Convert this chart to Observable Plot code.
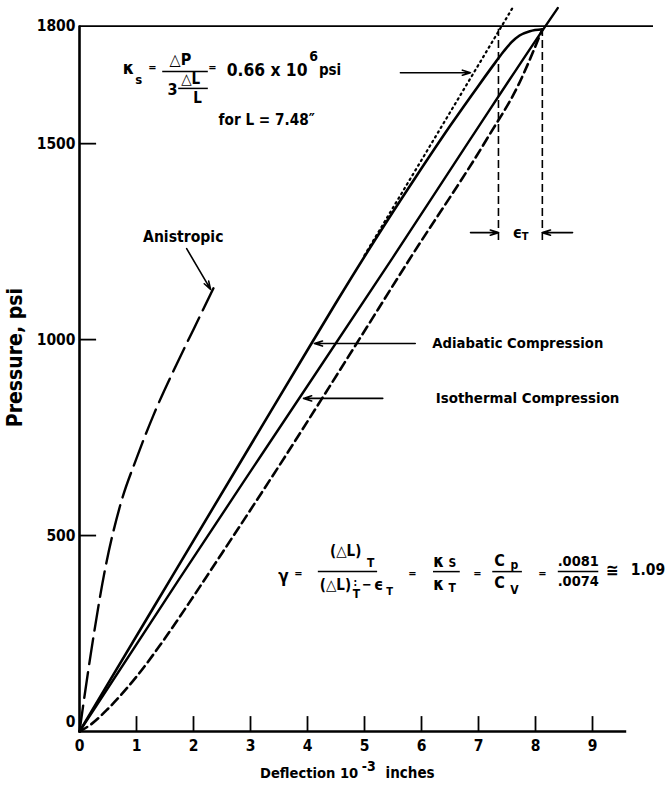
<!DOCTYPE html>
<html>
<head>
<meta charset="utf-8">
<script src="https://cdn.jsdelivr.net/npm/d3@7"></script>
<script src="https://cdn.jsdelivr.net/npm/@observablehq/plot@0.6"></script>
<style>
  body { margin: 0; background: #fff; }
</style>
</head>
<body>
<div id="chart"></div>
<script>
// ---- data (deflection in 10^-3 in, pressure in psi) ----
const adiabatic = [[0,0],[0.5,122],[1.56,380],[3.18,774],[4.04,983],[4.5,1094],[5.2,1258],[5.9,1415],[6.5,1545],[7.0,1648],[7.3,1708],[7.45,1737],[7.58,1759],[7.72,1776],[7.9,1787],[8.12,1792]];
const isothermal = [[0,0],[1.74,387],[3.18,703],[5.49,1208],[6.86,1512],[8.15,1795],[8.39,1846]];
const measured = [[0,0],[0.2,18],[0.5,58],[1.0,140],[1.5,238],[2.0,345],[2.5,455],[3.6,700],[4.84,985],[5.79,1205],[7.16,1515],[7.7,1650],[8.12,1792]];
const anisotropic = [[0,0],[0.2,200],[0.45,415],[0.72,580],[1.0,697],[1.3,808],[1.7,936],[2.0,1026],[2.35,1131]];
const tangent = [[5.0,1215],[7.6,1847]];
const epsilonMarks = [7.35, 8.12];
const epsilonRange = [1253, 1792];

const xTicks = [1,2,3,4,5,6,7,8,9];
const xTickLabels = [0,1,2,3,4,5,6,7,8,9];
const yTicks = [500,1000,1500];
const yTickLabels = [500,1000,1500,1800];
const topLine = 1800;

// ---- annotations (positions in data units) ----
const arrows = [
  {x1:1.88, y1:1232, x2:2.30, y2:1128},   // Anistropic
  {x1:5.89, y1:990,  x2:4.12, y2:990},    // Adiabatic
  {x1:5.32, y1:850,  x2:3.93, y2:850},    // Isothermal
  {x1:5.63, y1:1681, x2:6.86, y2:1681},   // tangent (kappa_s)
  {x1:6.86, y1:1273, x2:7.35, y2:1273},   // epsilon left
  {x1:8.65, y1:1273, x2:8.12, y2:1273}    // epsilon right
];
const fractionBars = [
  {x1:1.46, x2:2.26, y:1684},
  {x1:1.74, x2:2.26, y:1641},
  {x1:4.19, x2:5.23, y:408},
  {x1:6.21, x2:6.68, y:408},
  {x1:7.25, x2:7.77, y:408},
  {x1:8.40, x2:9.11, y:408}
];
const notesMiddle = [
  {x:0.86, y:1692, t:"κ", s:18},
  {x:1.04, y:1662, t:"s", s:13},
  {x:1.28, y:1694, t:"=", s:11},
  {x:1.77, y:1715, t:"△P", s:16},
  {x:1.63, y:1638, t:"3", s:16},
  {x:1.95, y:1664, t:"△L", s:15},
  {x:2.07, y:1615, t:"L", s:15},
  {x:2.33, y:1694, t:"=", s:11},
  {x:3.58, y:396, t:"γ", s:17},
  {x:3.84, y:403, t:"=", s:11},
  {x:4.67, y:459, t:"(△L)", s:15},
  {x:5.11, y:429, t:"T", s:12},
  {x:4.49, y:373, t:"(△L)", s:15},
  {x:4.84, y:380, t:":", s:10},
  {x:4.86, y:350, t:"T", s:12},
  {x:5.04, y:373, t:"−", s:13},
  {x:5.25, y:373, t:"ϵ", s:16},
  {x:5.44, y:357, t:"T", s:11},
  {x:5.84, y:403, t:"=", s:11},
  {x:6.30, y:434, t:"κ", s:17},
  {x:6.54, y:429, t:"S", s:12},
  {x:6.30, y:375, t:"κ", s:17},
  {x:6.54, y:365, t:"T", s:12},
  {x:6.98, y:403, t:"=", s:11},
  {x:7.37, y:436, t:"C", s:16},
  {x:7.63, y:424, t:"p", s:12},
  {x:7.37, y:378, t:"C", s:16},
  {x:7.63, y:360, t:"V", s:12},
  {x:8.12, y:403, t:"=", s:11},
  {x:8.75, y:434, t:".0081", s:14.5},
  {x:8.75, y:383, t:".0074", s:14.5},
  {x:9.35, y:411, t:"≅", s:17},
  {x:1.82, y:1263, t:"Anistropic", s:15.6},
  {x:7.68, y:1273, t:"ϵ", s:16},
  {x:7.82, y:1262, t:"T", s:11}
];
const notesStart = [
  {x:4.03, y:1722, t:"6", s:14},
  {x:4.2, y:1687, t:"psi", s:15},
  {x:2.44, y:1559, t:"for L = 7.48″", s:15.2},
  {x:9.67, y:413, t:"1.09", s:15.5},
  {x:6.19, y:990, t:"Adiabatic Compression", s:14.7},
  {x:6.25, y:850, t:"Isothermal Compression", s:14.9},
  {x:4.95, y:-90, t:"-3", s:14},
  {x:5.37, y:-107, t:"inches", s:15}
];
const notesEnd = [
  {x:4.0, y:1687, t:"0.66 x 10", s:17.3},
  {x:4.89, y:-107, t:"Deflection 10", s:14.6}
];

const FONT = "'DejaVu Sans Condensed', 'Liberation Sans Narrow', sans-serif";

const chart = Plot.plot({
  width: 668,
  height: 785,
  marginLeft: 79,
  marginRight: 15,
  marginTop: 6,
  marginBottom: 54,
  x: {domain: [0, 10.07], axis: null},
  y: {domain: [0, 1850], axis: null},
  style: {fontFamily: FONT, background: "#fff", color: "#000", overflow: "visible"},
  marks: [
    // frame
    Plot.ruleY([topLine], {x1: 0, x2: 10.07, stroke: "#000", strokeWidth: 1.6}),
    Plot.ruleX([0], {y1: 0, y2: topLine, stroke: "#000", strokeWidth: 2.6}),
    Plot.ruleY([0], {x1: 0, x2: 9.6, stroke: "#000", strokeWidth: 2.6}),
    Plot.ruleX(xTicks, {y1: 0, y2: 38, stroke: "#000", strokeWidth: 1.8}),
    Plot.ruleY(yTicks, {x1: 0, x2: 0.3, stroke: "#000", strokeWidth: 1.8}),
    Plot.text(xTickLabels, {x: d => d, y: -36, text: d => String(d), fontSize: 15.5, fontWeight: "bold", textAnchor: "middle"}),
    Plot.text(yTickLabels, {x: -0.07, y: d => d, text: d => String(d), fontSize: 15.5, fontWeight: "bold", textAnchor: "end"}),
    Plot.text([0], {x: -0.07, y: d => d, dy: -9, text: d => String(d), fontSize: 15.5, fontWeight: "bold", textAnchor: "end"}),
    Plot.text(["Pressure, psi"], {x: -1.12, y: 954, text: d => d, rotate: -90, fontSize: 21, fontWeight: "bold", textAnchor: "middle"}),
    // curves
    Plot.line(anisotropic, {x: d => d[0], y: d => d[1], curve: "monotone-x", stroke: "#000", strokeWidth: 2.4, strokeDasharray: "26,8"}),
    Plot.line(measured, {x: d => d[0], y: d => d[1], curve: "monotone-x", stroke: "#000", strokeWidth: 2.6, strokeDasharray: "9,5"}),
    Plot.line(isothermal, {x: d => d[0], y: d => d[1], curve: "monotone-x", stroke: "#000", strokeWidth: 2.4}),
    Plot.line(adiabatic, {x: d => d[0], y: d => d[1], curve: "monotone-x", stroke: "#000", strokeWidth: 2.6}),
    Plot.line(tangent, {x: d => d[0], y: d => d[1], stroke: "#000", strokeWidth: 2.2, strokeDasharray: "1.5,4", strokeLinecap: "round"}),
    Plot.ruleX(epsilonMarks, {y1: epsilonRange[0], y2: epsilonRange[1], stroke: "#000", strokeWidth: 1.6, strokeDasharray: "8,4"}),
    // annotations
    Plot.arrow(arrows, {x1: "x1", y1: "y1", x2: "x2", y2: "y2", stroke: "#000", strokeWidth: 1.6, headLength: 8, headAngle: 35}),
    Plot.ruleY(fractionBars, {x1: "x1", x2: "x2", y: "y", stroke: "#000", strokeWidth: 1.5}),
    Plot.text(notesMiddle, {x: "x", y: "y", text: "t", fontSize: d => d.s, fontWeight: "bold", textAnchor: "middle"}),
    Plot.text(notesStart, {x: "x", y: "y", text: "t", fontSize: d => d.s, fontWeight: "bold", textAnchor: "start"}),
    Plot.text(notesEnd, {x: "x", y: "y", text: "t", fontSize: d => d.s, fontWeight: "bold", textAnchor: "end"})
  ]
});
document.getElementById("chart").appendChild(chart);
</script>
</body>
</html>
